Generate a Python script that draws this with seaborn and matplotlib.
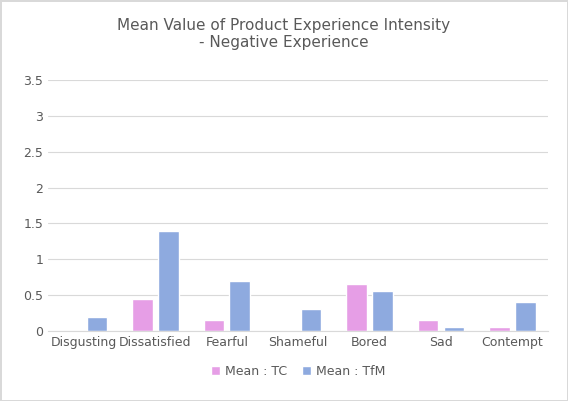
import pandas as pd
import seaborn as sns
import matplotlib.pyplot as plt

categories = ['Disgusting', 'Dissatisfied', 'Fearful', 'Shameful', 'Bored', 'Sad', 'Contempt']
mean_tc = [0, 0.45, 0.15, 0, 0.65, 0.15, 0.05]
mean_tfm = [0.2, 1.4, 0.7, 0.3, 0.55, 0.05, 0.4]
series_names = ['Mean : TC', 'Mean : TfM']

df = pd.DataFrame({'Emotion': categories * 2,
                   'Value': mean_tc + mean_tfm,
                   'Series': [series_names[0]] * 7 + [series_names[1]] * 7})

sns.set_style('white')
fig, ax = plt.subplots(figsize=(5.68, 4.01), dpi=100)
fig.subplots_adjust(left=0.085, right=0.965, top=0.80, bottom=0.175)

sns.barplot(data=df, x='Emotion', y='Value', hue='Series',
            palette=['#E69EE6', '#8EAADF'], saturation=1,
            width=0.72, gap=0.2, ax=ax)

ax.set_ylim(0, 3.5)
ax.set_yticks([0, 0.5, 1, 1.5, 2, 2.5, 3, 3.5])
ax.set_yticklabels(['0', '0.5', '1', '1.5', '2', '2.5', '3', '3.5'])
ax.yaxis.grid(True, color='#D9D9D9', linewidth=0.8)
ax.set_axisbelow(True)
for s in ['top', 'right', 'left']:
    ax.spines[s].set_visible(False)
ax.spines['bottom'].set_color('#D9D9D9')
ax.tick_params(axis='both', length=0, labelsize=9, colors='#595959')
ax.set_xlabel('')
ax.set_ylabel('')

fig.suptitle('Mean Value of Product Experience Intensity\n- Negative Experience',
             y=0.955, fontsize=11, color='#595959')

ax.legend(loc='upper center', bbox_to_anchor=(0.5, -0.09), ncol=2, frameon=False,
          fontsize=9, labelcolor='#595959', handlelength=0.7, handleheight=0.7,
          columnspacing=1.2, handletextpad=0.4)

fig.patch.set_edgecolor('#D9D9D9')
fig.patch.set_linewidth(1)
plt.savefig('out.png', dpi=100)
